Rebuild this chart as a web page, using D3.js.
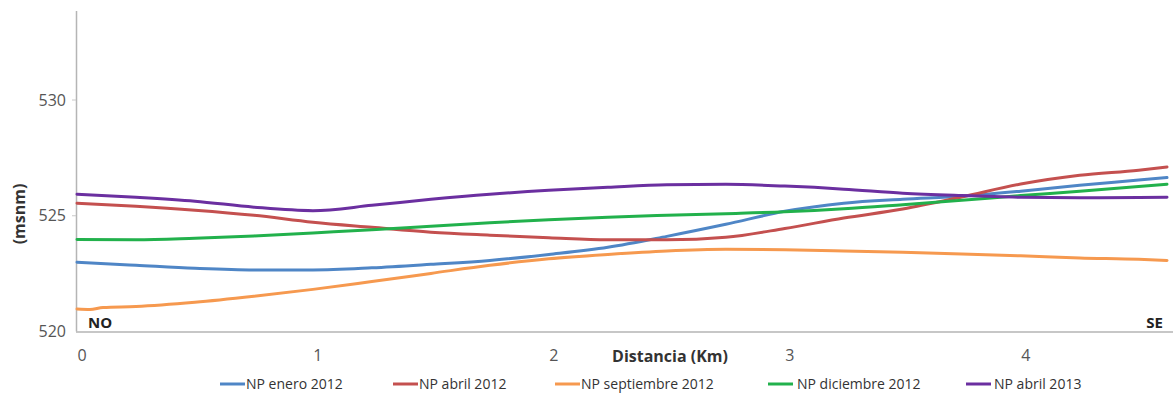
<!DOCTYPE html>
<html><head><meta charset="utf-8">
<script src="https://cdn.jsdelivr.net/npm/d3@7"></script>
<style>
body{margin:0;background:#fff;}
text{font-family:"Open Sans",sans-serif;}
</style></head>
<body><svg id="c" width="1173" height="397"></svg>
<script>
// Distances (km) at which values were read
const distancia = [0,0.25,0.5,0.75,1,1.25,1.5,1.75,2,2.25,2.5,2.75,3,3.25,3.5,3.75,4,4.25,4.5,4.62];
const distanciaSep = [0,0.055,0.11,0.25,0.5,0.75,1,1.25,1.5,1.75,2,2.25,2.5,2.75,3,3.25,3.5,3.75,4,4.25,4.5,4.62];
const npEnero2012 = [522.99,522.86,522.73,522.66,522.66,522.75,522.90,523.07,523.33,523.64,524.11,524.63,525.19,525.54,525.71,525.84,526.06,526.32,526.54,526.65];
const npAbril2012 = [525.54,525.41,525.24,525.02,524.72,524.50,524.29,524.16,524.05,523.96,523.96,524.07,524.45,524.90,525.29,525.81,526.37,526.75,526.97,527.11];
const npSeptiembre2012 = [520.97,520.95,521.04,521.08,521.26,521.52,521.82,522.16,522.51,522.86,523.14,523.33,523.48,523.55,523.53,523.48,523.42,523.35,523.27,523.18,523.12,523.07];
const npDiciembre2012 = [523.97,523.96,524.03,524.13,524.26,524.39,524.55,524.70,524.83,524.94,525.02,525.09,525.17,525.30,525.48,525.67,525.87,526.06,526.26,526.36];
const npAbril2013 = [525.93,525.80,525.63,525.37,525.22,525.45,525.71,525.93,526.10,526.23,526.34,526.36,526.28,526.15,525.97,525.87,525.80,525.78,525.79,525.80];
const seriesNames = ["NP enero 2012","NP abril 2012","NP septiembre 2012","NP diciembre 2012","NP abril 2013"];
const seriesColors = ["#4f86c6","#c4504f","#f6994f","#22b14c","#6b2fa0"];
const xTicks = [0,1,2,3,4];
const yTicks = [520,525,530];
const xTitle = "Distancia (Km)";
const yTitle = "(msnm)";

const series = [
  {name:seriesNames[0], x:distancia, y:npEnero2012, color:seriesColors[0]},
  {name:seriesNames[1], x:distancia, y:npAbril2012, color:seriesColors[1]},
  {name:seriesNames[2], x:distanciaSep, y:npSeptiembre2012, color:seriesColors[2]},
  {name:seriesNames[3], x:distancia, y:npDiciembre2012, color:seriesColors[3]},
  {name:seriesNames[4], x:distancia, y:npAbril2013, color:seriesColors[4]}
];

const svg = d3.select("#c");
const x = d3.scaleLinear().domain([0,4.62]).range([77,1167]);
const y = d3.scaleLinear().domain([520,530]).range([331.5,100]);
const xEnd = 1173, yTop = 11;

// axes lines
svg.append("line").attr("x1",76.5).attr("x2",76.5).attr("y1",yTop).attr("y2",y(520))
  .attr("stroke","#b5b5b5").attr("stroke-width",1.5);
svg.append("line").attr("x1",76).attr("x2",xEnd).attr("y1",y(520)+0.5).attr("y2",y(520)+0.5)
  .attr("stroke","#b5b5b5").attr("stroke-width",1.5);

// y ticks
const yAxis = svg.append("g");
yTicks.forEach(t=>{
  if(t!==520) yAxis.append("line").attr("x1",72).attr("x2",76).attr("y1",y(t)).attr("y2",y(t)).attr("stroke","#c8c8c8");
  yAxis.append("text").attr("x",66).attr("y",y(t)).attr("dy","0.35em").attr("text-anchor","end")
    .attr("font-size",16).attr("fill","#555").text(t);
});
// x tick labels
xTicks.forEach(t=>{
  svg.append("text").attr("x",x(t)+5).attr("y",355).attr("dy","0.35em").attr("text-anchor","middle")
    .attr("font-size",16).attr("fill","#555").text(t);
});
svg.append("text").attr("x",670).attr("y",356).attr("dy","0.35em").attr("text-anchor","middle")
  .attr("font-size",16).attr("font-weight","bold").attr("fill","#333").text(xTitle);
svg.append("text").attr("transform","translate(19,214) rotate(-90)").attr("dy","0.35em").attr("text-anchor","middle")
  .attr("font-size",16).attr("font-weight","bold").attr("fill","#333").text(yTitle);

// direction labels
svg.append("text").attr("x",88).attr("y",328).attr("font-size",15).attr("font-weight","bold").attr("fill","#222").text("NO");
svg.append("text").attr("x",1163).attr("y",328).attr("text-anchor","end").attr("font-size",15).attr("font-weight","bold").attr("fill","#222").text("SE");

// lines
const line = d3.line().curve(d3.curveMonotoneX);
series.forEach(s=>{
  svg.append("path").attr("d", line(s.x.map((d,i)=>[x(d), y(s.y[i])])))
    .attr("fill","none").attr("stroke",s.color).attr("stroke-width",3).attr("stroke-linecap","round");
});

// legend
const legX = [220,393,555,768,966];
const legTextX = [246,419,581,797,994];
series.forEach((s,i)=>{
  svg.append("line").attr("x1",legX[i]).attr("x2",legX[i]+25).attr("y1",384).attr("y2",384)
    .attr("stroke",s.color).attr("stroke-width",3);
  svg.append("text").attr("x",legTextX[i]).attr("y",384).attr("dy","0.35em").attr("font-size",14).attr("fill","#333").text(s.name);
});
</script></body></html>
